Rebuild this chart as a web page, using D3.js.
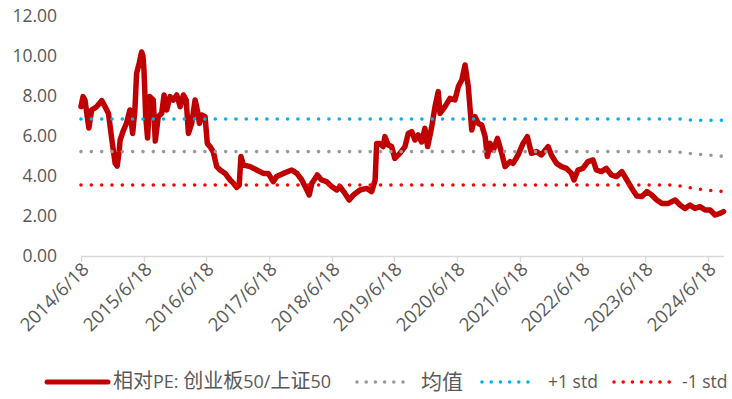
<!DOCTYPE html>
<html><head><meta charset="utf-8">
<script src="https://cdn.jsdelivr.net/npm/d3@7"></script>
<style>
html,body{margin:0;padding:0;background:#fff;}
svg{display:block;}
text{font-family:"Open Sans","Noto Sans CJK SC",sans-serif;fill:#595959;}
</style></head>
<body>
<svg id="chart" width="732" height="399"></svg>
<script>
// ---- data ----
const peDates = ["2014-06-18","2014-06-30","2014-07-11","2014-07-30","2014-08-03","2014-08-19","2014-09-18","2014-10-17","2014-11-05","2014-11-25","2014-12-05","2014-12-15","2015-01-03","2015-01-15","2015-01-26","2015-02-01","2015-02-21","2015-03-10","2015-03-30","2015-04-15","2015-04-28","2015-05-08","2015-05-23","2015-06-06","2015-06-14","2015-06-20","2015-06-30","2015-07-11","2015-07-24","2015-08-13","2015-08-25","2015-09-11","2015-10-01","2015-10-15","2015-10-30","2015-11-19","2015-12-08","2015-12-28","2016-01-17","2016-02-05","2016-02-21","2016-03-05","2016-03-24","2016-04-13","2016-04-26","2016-05-08","2016-05-22","2016-06-10","2016-06-23","2016-07-09","2016-07-28","2016-08-17","2016-09-06","2016-10-05","2016-11-03","2016-11-23","2016-12-12","2016-12-26","2017-01-05","2017-01-20","2017-02-28","2017-04-07","2017-05-15","2017-06-13","2017-07-12","2017-08-01","2017-09-09","2017-10-28","2017-11-27","2017-12-26","2018-01-14","2018-02-07","2018-02-22","2018-03-26","2018-04-20","2018-05-19","2018-06-18","2018-07-17","2018-08-05","2018-09-03","2018-09-28","2018-10-22","2018-11-30","2019-01-08","2019-02-06","2019-02-26","2019-03-07","2019-03-26","2019-04-14","2019-04-24","2019-05-13","2019-06-02","2019-06-21","2019-07-20","2019-08-19","2019-09-07","2019-09-27","2019-10-16","2019-11-04","2019-11-24","2019-12-13","2019-12-29","2020-01-22","2020-02-10","2020-02-29","2020-03-10","2020-04-08","2020-05-07","2020-06-05","2020-06-25","2020-07-15","2020-08-03","2020-08-22","2020-09-11","2020-09-30","2020-10-19","2020-11-08","2020-11-28","2020-12-11","2020-12-27","2021-01-15","2021-02-08","2021-03-05","2021-03-24","2021-04-22","2021-05-10","2021-06-08","2021-07-07","2021-08-01","2021-08-25","2021-09-23","2021-10-22","2021-11-30","2021-12-19","2022-01-18","2022-02-16","2022-03-17","2022-04-15","2022-04-30","2022-05-23","2022-06-21","2022-07-20","2022-08-19","2022-09-07","2022-10-06","2022-11-04","2022-12-04","2023-01-02","2023-02-03","2023-03-04","2023-04-02","2023-05-01","2023-05-30","2023-06-28","2023-07-27","2023-08-25","2023-09-24","2023-11-01","2023-12-10","2024-01-08","2024-02-06","2024-03-06","2024-04-04","2024-05-03","2024-06-02","2024-07-01","2024-07-30","2024-08-28","2024-09-17"];
const peValues = [7.47,7.97,7.8,6.63,6.4,7.3,7.47,7.77,7.47,7.13,6.47,5.8,4.63,4.5,5.2,5.8,6.3,6.63,7.3,6.13,7.3,9.13,9.63,10.2,10.0,9.3,6.97,5.9,7.97,7.8,5.75,6.97,7.13,8.05,7.3,7.97,7.8,8.05,7.47,8.05,7.8,6.13,6.63,7.8,7.3,6.63,7.05,6.97,5.63,5.47,5.2,4.47,4.3,4.13,3.8,3.63,3.43,3.55,4.97,4.55,4.47,4.3,4.13,4.13,3.72,3.97,4.13,4.3,4.13,3.8,3.47,3.05,3.63,4.05,3.8,3.72,3.47,3.3,3.47,3.13,2.8,3.05,3.3,3.38,3.22,3.8,5.63,5.63,5.47,5.97,5.55,5.47,4.88,5.13,5.47,6.13,6.22,5.8,6.05,5.7,6.38,5.47,6.47,7.47,8.22,7.13,7.47,7.88,7.8,8.47,8.8,9.55,8.47,6.3,6.97,6.63,6.55,5.97,4.97,5.63,5.3,5.88,5.13,4.47,4.72,4.63,5.05,5.63,5.97,5.13,5.22,5.05,5.47,5.05,4.63,4.47,4.38,4.13,3.8,4.3,4.38,4.72,4.8,4.3,4.22,4.38,4.05,3.97,4.22,3.8,3.38,3.0,2.97,3.22,3.05,2.8,2.63,2.63,2.8,2.55,2.38,2.55,2.38,2.47,2.3,2.3,2.05,2.13,2.22];

const meanDates = ["2014-06-18","2023-12-01","2024-02-01","2024-04-01","2024-06-01","2024-09-20"];
const meanValues = [5.22,5.22,5.16,5.1,5.06,4.98];
const plusDates = ["2014-06-18","2024-01-20","2024-03-15","2024-09-20"];
const plusValues = [6.85,6.85,6.79,6.79];
const minusDates = ["2014-06-18","2023-11-15","2024-01-10","2024-03-01","2024-05-01","2024-07-01","2024-09-20"];
const minusValues = [3.55,3.55,3.5,3.42,3.34,3.28,3.22];

const xTickLabels = ["2014/6/18","2015/6/18","2016/6/18","2017/6/18","2018/6/18","2019/6/18","2020/6/18","2021/6/18","2022/6/18","2023/6/18","2024/6/18"];
const yTicks = [0,2,4,6,8,10,12];
const legendLabels = ["相对PE: 创业板50/上证50","均值","+1 std","-1 std"];

// ---- chart ----
const parse = d3.timeParse("%Y-%m-%d");
const tickParse = d3.timeParse("%Y/%m/%d");
const svg = d3.select("#chart");
svg.append("rect").attr("width",732).attr("height",399).attr("fill","#fff");

const x = d3.scaleTime().domain([parse("2014-06-18"), parse("2024-09-20")]).range([81, 724]);
const y = d3.scaleLinear().domain([0, 12]).range([256, 16]);

// x axis
const xAxisG = svg.append("g");
xAxisG.append("line").attr("x1",81).attr("x2",724).attr("y1",256.5).attr("y2",256.5)
  .attr("stroke","#d9d9d9").attr("stroke-width",1.3);
xTickLabels.forEach(l => {
  const xx = Math.round(x(tickParse(l))) + 0.5;
  xAxisG.append("line").attr("x1",xx).attr("x2",xx).attr("y1",256).attr("y2",262)
    .attr("stroke","#d9d9d9").attr("stroke-width",1.3);
  xAxisG.append("text").attr("transform",`translate(${xx+4},${266}) rotate(-45)`)
    .attr("text-anchor","end").attr("dy","0.35em").style("font-size","18.5px").text(l);
});

// y axis labels
yTicks.forEach(v => {
  svg.append("text").attr("x",57).attr("y",y(v)).attr("dy","0.35em")
    .attr("text-anchor","end").style("font-size","17.5px").text(d3.format(".2f")(v));
});

const line = d3.line().x(d => x(d[0])).y(d => y(d[1]));
const zip = (ds, vs) => ds.map((d,i) => [parse(d), vs[i]]);

svg.append("path").datum(zip(peDates, peValues)).attr("d", line)
  .attr("fill","none").attr("stroke","#C00000").attr("stroke-width",5.5)
  .attr("stroke-linejoin","round").attr("stroke-linecap","round");

const dotted = (ds, vs, color) => svg.append("path").datum(zip(ds, vs)).attr("d", line)
  .attr("fill","none").attr("stroke",color).attr("stroke-width",3.6)
  .attr("stroke-linecap","round").attr("stroke-dasharray","0 10.33");
dotted(meanDates, meanValues, "#999999");
dotted(plusDates, plusValues, "#00B0F0");
dotted(minusDates, minusValues, "#FF0000");

// legend
const ly = 382;
const lg = svg.append("g");
lg.append("line").attr("x1",47).attr("x2",108).attr("y1",ly).attr("y2",ly)
  .attr("stroke","#C00000").attr("stroke-width",5).attr("stroke-linecap","round");
const t0 = lg.append("text").attr("x",113).attr("y",ly).attr("dy","0.35em").style("font-size","18px");
[["相对",true],["PE: ",false],["创业板",true],["50/",false],["上证",true],["50",false]].forEach(([s,cjk]) => {
  t0.append("tspan").style("font-size", cjk ? "20px" : "18px")
    .style("font-family", cjk ? "'Noto Sans CJK SC'" : "'Open Sans'").text(s);
});
const legendDots = [[357,403,"#999999"],[482,537,"#00B0F0"],[614,670,"#FF0000"]];
legendDots.forEach(([a,b,c]) => {
  lg.append("line").attr("x1",a).attr("x2",b).attr("y1",ly).attr("y2",ly)
    .attr("stroke",c).attr("stroke-width",3.6).attr("stroke-linecap","round")
    .attr("stroke-dasharray","0 9.2");
});
lg.append("text").attr("x",421).attr("y",ly).attr("dy","0.35em")
  .style("font-size","21px").style("font-family","'Noto Sans CJK SC'").text(legendLabels[1]);
lg.append("text").attr("x",548).attr("y",ly).attr("dy","0.35em").style("font-size","17.5px").text(legendLabels[2]);
lg.append("text").attr("x",682).attr("y",ly).attr("dy","0.35em").style("font-size","17.5px").text(legendLabels[3]);
</script>
</body></html>
